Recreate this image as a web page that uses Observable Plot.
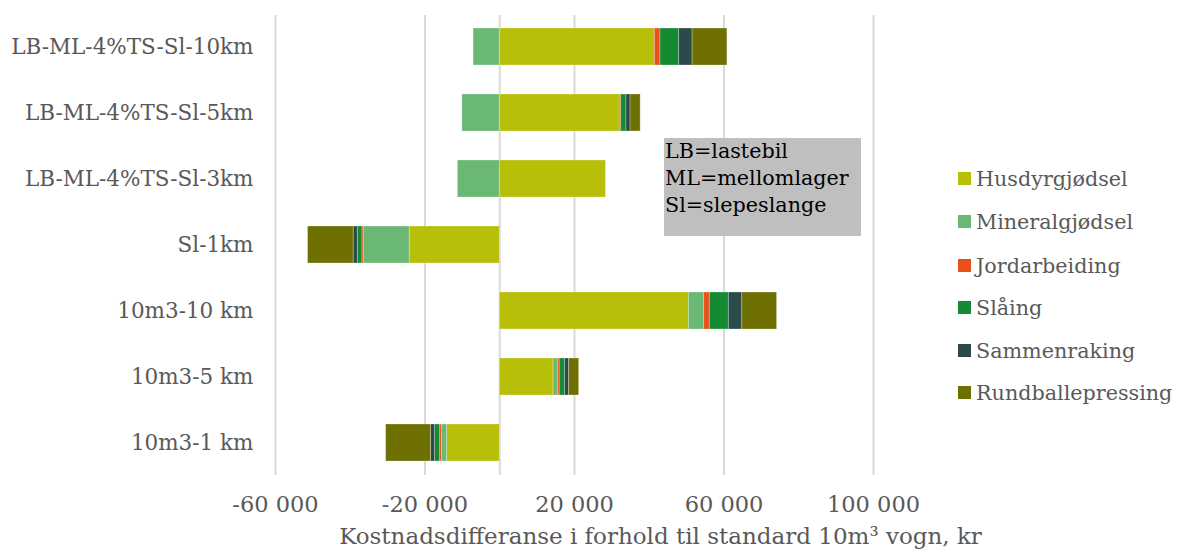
<!DOCTYPE html>
<html>
<head>
<meta charset="utf-8">
<script src="https://cdn.jsdelivr.net/npm/d3@7"></script>
<script src="https://cdn.jsdelivr.net/npm/@observablehq/plot@0.6"></script>
<style>
  html, body { margin: 0; padding: 0; background: #fff; }
  #wrap { position: relative; width: 1177px; height: 549px; font-family: "DejaVu Serif", serif; }
  #wrap svg { position: absolute; left: 0; top: 0; }
  .note { position: absolute; left: 664px; top: 138px; width: 197px; height: 98px; background: #bfbfbf;
          color: #000; font-size: 20.7px; line-height: 27px; padding-left: 1px; box-sizing: border-box; }
  .leg { position: absolute; left: 958px; height: 28px; line-height: 28px; font-size: 20.7px; color: #595959; white-space: nowrap; }
  .leg span.sw { display: inline-block; width: 13px; height: 13px; margin-right: 5px; vertical-align: middle; position: relative; top: -2px; }
</style>
</head>
<body>
<div id="wrap"></div>
<script>
const categories = ["LB-ML-4%TS-Sl-10km", "LB-ML-4%TS-Sl-5km", "LB-ML-4%TS-Sl-3km", "Sl-1km", "10m3-10 km", "10m3-5 km", "10m3-1 km"];
const series = ["Husdyrgjødsel", "Mineralgjødsel", "Jordarbeiding", "Slåing", "Sammenraking", "Rundballepressing"];
const colors = ["#b8bf08", "#6bb774", "#e9501a", "#148b32", "#2b4a4a", "#6e7102"];

const husdyrgjodsel     = [41500, 32100, 28400, -24100, 50600, 14400, -14100];
const mineralgjodsel    = [-7000, -10000, -11200, -12200, 4100, 1200, -1400];
const jordarbeiding     = [1500, 400, 0, -450, 1500, 450, -450];
const slaaing           = [5000, 1400, 0, -1250, 5100, 1400, -1350];
const sammenraking      = [3600, 1100, 0, -1100, 3600, 1100, -1100];
const rundballepressing = [9300, 2700, 0, -12200, 9300, 2700, -12000];

const xTicks = [-60000, -20000, 20000, 60000, 100000];
const xTitle = "Kostnadsdifferanse i forhold til standard 10m³ vogn, kr";
const noteLines = ["LB=lastebil", "ML=mellomlager", "Sl=slepeslange"];

const seriesValues = [husdyrgjodsel, mineralgjodsel, jordarbeiding, slaaing, sammenraking, rundballepressing];
const rows = [];
series.forEach((s, i) => categories.forEach((c, j) => rows.push({series: s, category: c, value: seriesValues[i][j]})));

const fmt = d => d3.format(",")(d).replace(/,/g, " ").replace("−", "-");

const chart = Plot.plot({
  width: 1177,
  height: 549,
  marginTop: 15,
  marginBottom: 74,
  marginLeft: 275,
  marginRight: 304,
  style: {fontFamily: "DejaVu Serif", background: "transparent", overflow: "visible"},
  x: {domain: [-60000, 100000]},
  y: {domain: categories, paddingInner: 0.435, paddingOuter: 0.2},
  color: {domain: series, range: colors},
  marks: [
    Plot.gridX(xTicks, {stroke: "#d9d9d9", strokeOpacity: 1, strokeWidth: 2}),
    Plot.ruleX([0], {stroke: "#d9d9d9", strokeWidth: 2}),
    Plot.barX(rows, Plot.stackX({x: "value", y: "category", fill: "series", stroke: "#ffffff", strokeOpacity: 0.35, strokeWidth: 0.8})),
    Plot.axisX(xTicks, {tickSize: 0, tickPadding: 21, fontSize: 22.5, fill: "#595959", tickFormat: fmt, label: null}),
    Plot.axisY({tickSize: 0, tickPadding: 22, fontSize: 21.5, fill: "#595959", label: null}),
    Plot.text([xTitle], {frameAnchor: "bottom", dx: 86, dy: 68, lineAnchor: "bottom", fontSize: 23, fill: "#595959"})
  ]
});

const wrap = document.getElementById("wrap");
wrap.appendChild(chart);

const note = document.createElement("div");
note.className = "note";
note.innerHTML = noteLines.map(t => `<div>${t}</div>`).join("");
wrap.appendChild(note);

const legTops = [179, 222.3, 265.5, 308.3, 351, 393.3];
series.forEach((s, i) => {
  const d = document.createElement("div");
  d.className = "leg";
  d.style.top = (legTops[i] - 14) + "px";
  d.innerHTML = `<span class="sw" style="background:${colors[i]}"></span>${s}`;
  wrap.appendChild(d);
});
</script>
</body>
</html>
